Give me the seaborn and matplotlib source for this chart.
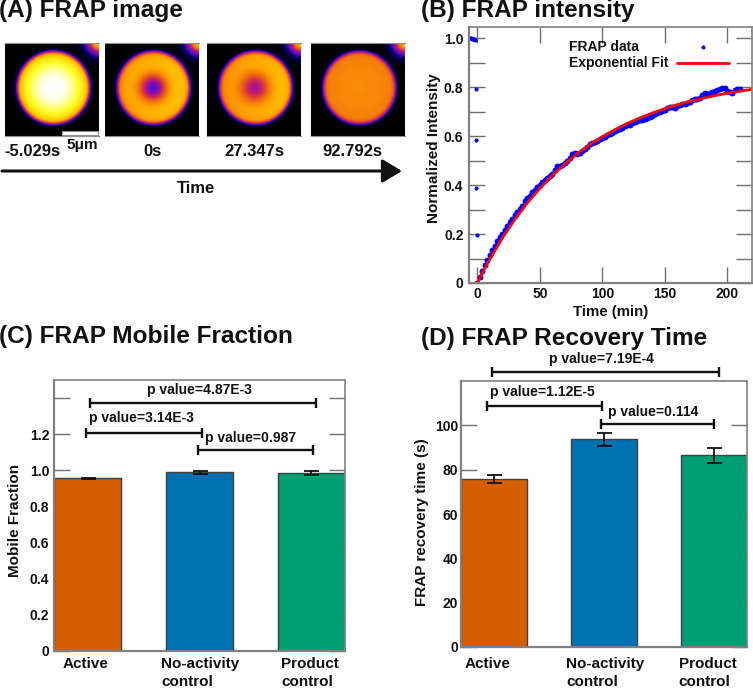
import numpy as np
import matplotlib
matplotlib.use('Agg')
import matplotlib.pyplot as plt
from matplotlib.colors import LinearSegmentedColormap
from matplotlib.patches import Rectangle
import seaborn as sns

sns.set_style('white')
plt.rcParams['font.family'] = ['Liberation Sans', 'DejaVu Sans']
plt.rcParams['font.weight'] = 'bold'
plt.rcParams['axes.labelweight'] = 'bold'
plt.rcParams['text.color'] = '#111111'
plt.rcParams['axes.labelcolor'] = '#111111'
plt.rcParams['xtick.color'] = '#111111'
plt.rcParams['ytick.color'] = '#111111'

W, H = 753, 688

# panel A frames
frame_labels = ['-5.029s', '0s', '27.347s', '92.792s']
frame_centre = [1.0, 0.79, 0.77, 0.61]
frame_edge = [0.72, 0.64, 0.63, 0.57]
frame_tilt = [0.0, 0.05, 0.06, 0.0]
frame_bleach = [0.0, 0.60, 0.46, 0.0]
frame_sigma = [1, 10, 11, 1]
fire_colors = ['#000000', '#0a0060', '#5a10c8', '#a0109a', '#d83040',
               '#f07010', '#ffa000', '#ffd000', '#ffff30', '#ffffff']

# panel B
pre_t = [-5.6, -4.8, -4.0, -3.2, -2.4, -1.6, -1.3, -1.0, -0.8, -0.5]
pre_y = [1.0, 0.999, 0.998, 0.996, 0.995, 0.993, 0.79, 0.583, 0.387, 0.196]
rec_t = list(range(0, 212, 2))
rec_y = [.000, .026, .050, .072, .094, .115, .135, .152, .170, .186, .202, .217, .231, .250, .262,
         .277, .290, .304, .316, .334, .345, .357, .370, .381, .392, .401, .411, .419, .429, .436,
         .445, .460, .478, .478, .480, .488, .498, .510, .527, .530, .526, .532, .538, .546, .557,
         .567, .571, .574, .579, .587, .592, .598, .604, .608, .614, .620, .624, .628, .634, .640,
         .643, .645, .652, .656, .661, .665, .667, .669, .673, .677, .683, .689, .692, .698, .704,
         .708, .714, .717, .719, .716, .722, .726, .729, .731, .735, .738, .745, .750, .752, .757,
         .768, .775, .773, .774, .780, .784, .788, .791, .798, .796, .784, .779, .776, .786, .793,
         .792]
fit_t = [0, 5, 10, 20, 30, 40, 50, 60, 70, 80, 90, 100, 110, 120, 130, 140, 150, 160, 170, 180, 190, 200, 210, 220]
fit_y = [0, .050, .097, .183, .259, .327, .386, .439, .486, .528, .565, .597, .626, .652, .674, .694,
         .712, .728, .742, .754, .765, .775, .783, .791]

# panels C and D
categories = ['Active', 'No-activity\ncontrol', 'Product\ncontrol']
bar_colors = ['#D55E00', '#0072B2', '#009E73']
mobile = [0.955, 0.989, 0.985]
mobile_err = [0.004, 0.008, 0.012]
recovery = [76.0, 93.7, 86.4]
recovery_err = [1.8, 2.9, 3.2]
mobile_p = [('p value=4.87E-3', 0.02, 2.04, 1.372, 1.0, 1.444),
            ('p value=3.14E-3', -0.01, 1.02, 1.205, 0.48, 1.289),
            ('p value=0.987', 0.99, 2.01, 1.11, 1.46, 1.178)]
recovery_p = [('p value=7.19E-4', -0.02, 2.045, 123.9, 0.98, 129.7),
              ('p value=1.12E-5', -0.064, 0.98, 108.6, 0.436, 114.9),
              ('p value=0.114', 0.97, 2.0, 100.5, 1.445, 105.9)]


def px_axes(fig, l, t, r, b):
    return fig.add_axes([l / W, 1 - b / H, (r - l) / W, (b - t) / H])


def fx(x):
    return x / W


def fy(y):
    return 1 - y / H


def cell_image(centre, edge, tilt, bleach, sigma, n=94, cx=48.5, cy=45.7, R=36.0):
    yy, xx = np.mgrid[0:n, 0:n] + 0.5
    r = np.hypot(xx - cx, yy - cy)
    inside = 1 / (1 + np.exp((r - R) / 1.2))
    level = edge + (centre - edge) * np.clip(1 - (r / R) ** 2.5, 0, 1)
    level = level + tilt * (xx - cx) / R
    level = level - bleach * np.exp(-(r / sigma) ** 2 / 2)
    d = np.hypot(xx - n, yy)
    corner = 0.72 / (1 + np.exp((d - 8) / 2.2)) + 0.12 * np.exp(-((d - 12) / 8.0) ** 2)
    return level * inside + corner


def style_axes(ax, color='#808080'):
    for side in ax.spines:
        ax.spines[side].set_visible(True)
        ax.spines[side].set_color(color)
        ax.spines[side].set_linewidth(1.2)
        ax.spines[side].set_zorder(6)
    ax.spines['left'].set_linewidth(1.6)
    ax.spines['bottom'].set_linewidth(1.6)


def bar_panel(ax, values, errs, ylim, yticks, ylabels, ylabel, label_xy, p_rows, xticks, xpad, ypad):
    sns.barplot(x=categories, y=values, hue=categories, palette=bar_colors, width=0.6, saturation=1,
                edgecolor='#404040', linewidth=1.0, legend=False, ax=ax)
    ax.errorbar([0, 1, 2], values, yerr=errs, fmt='none', ecolor='#111111', elinewidth=1.3,
                capsize=5.4, capthick=1.3, zorder=5)
    ax.set_xlim(-0.3, 2.3)
    ax.set_ylim(*ylim)
    ax.set_axisbelow(True)
    ax.set_yticks(yticks)
    ax.set_yticklabels(ylabels, fontsize=10)
    ax.tick_params(axis='y', which='major', direction='in', left=True, right=True, length=11.5,
                   width=1.0, color='#707070', pad=ypad)
    ax.set_xticks(xticks)
    ax.set_xticklabels(categories, fontsize=11, multialignment='left', linespacing=1.4)
    ax.tick_params(axis='x', length=0, pad=xpad)
    ax.set_ylabel(ylabel, fontsize=11, labelpad=0)
    ax.yaxis.set_label_coords(*label_xy)
    ax.set_xlabel('')
    style_axes(ax)
    for text, x0, x1, y, tx, ty in p_rows:
        ax.plot([x0, x1], [y, y], color='#111111', lw=1.7, marker='|', ms=7.5, mew=1.7, clip_on=False, zorder=7)
        ax.text(tx, ty, text, ha='center', va='center', fontsize=10, clip_on=False)


fig = plt.figure(figsize=(W / 100, H / 100), dpi=100)

fig.text(fx(-1), fy(10), '(A) FRAP image', fontsize=17.6, ha='left', va='center')
fig.text(fx(421), fy(10), '(B) FRAP intensity', fontsize=17.6, ha='left', va='center')
fig.text(fx(-1), fy(337), '(C) FRAP Mobile Fraction', fontsize=17.6, ha='left', va='center')
fig.text(fx(421), fy(338), '(D) FRAP Recovery Time', fontsize=17.6, ha='left', va='center')

# panel A
fire = LinearSegmentedColormap.from_list('fire', list(zip(
    [0, 0.1, 0.2, 0.3, 0.42, 0.55, 0.66, 0.78, 0.9, 1.0], fire_colors)))
lefts = [5, 105, 207, 311]
label_x = [32, 153, 254, 352]
for i, left in enumerate(lefts):
    ax = px_axes(fig, left, 42.5, left + 94, 136)
    img = cell_image(frame_centre[i], frame_edge[i], frame_tilt[i], frame_bleach[i], frame_sigma[i])
    sns.heatmap(img, cmap=fire, vmin=0, vmax=1, cbar=False, xticklabels=False, yticklabels=False,
                rasterized=True, ax=ax)
    ax.spines['top'].set_visible(True)
    ax.spines['bottom'].set_visible(True)
    ax.spines['top'].set_color('#909090')
    ax.spines['bottom'].set_color('#909090')
    fig.text(fx(label_x[i]), fy(152), frame_labels[i], fontsize=12, ha='center', va='center')
fig.add_artist(Rectangle((fx(62), fy(135)), 36 / W, 4.5 / H, transform=fig.transFigure,
                         facecolor='white', edgecolor='#909090', lw=0.8))
fig.text(fx(82), fy(145), '5μm', fontsize=11, ha='center', va='center')
arrow_ax = fig.add_axes([0, 0, 1, 1], facecolor='none')
arrow_ax.set_xlim(0, W)
arrow_ax.set_ylim(H, 0)
arrow_ax.axis('off')
arrow_ax.annotate('', xy=(402, 171), xytext=(2, 171),
                  arrowprops=dict(arrowstyle='-|>,head_length=1.2,head_width=0.72', lw=2.2, color='#111111',
                                  shrinkA=0, shrinkB=0, mutation_scale=10))
fig.text(fx(196), fy(189), 'Time', fontsize=12, ha='center', va='center')

# panel B
ax = px_axes(fig, 469, 27, 752, 283)
sns.scatterplot(x=pre_t, y=pre_y, color='#0000FF', s=9, linewidth=0, ax=ax, zorder=3)
sns.scatterplot(x=rec_t, y=rec_y, color='#0000FF', s=18, linewidth=0, ax=ax, zorder=3)
sns.lineplot(x=fit_t, y=fit_y, color='#FF0000', lw=2.0, ax=ax, zorder=4)
ax.set_xlim(-6.6, 219.6)
ax.set_ylim(0, 1.045)
ax.set_xticks([0, 50, 100, 150, 200])
ax.set_xticklabels(['0', '50', '100', '150', '200'], fontsize=10)
ax.set_yticks([0, 0.2, 0.4, 0.6, 0.8, 1.0])
ax.set_yticklabels(['0', '0.2', '0.4', '0.6', '0.8', '1.0'], fontsize=10)
ax.set_yticks([0.1, 0.3, 0.5, 0.7, 0.9], minor=True)
ax.tick_params(axis='both', which='both', direction='in', bottom=True, top=True, left=True, right=True,
               length=11.5, width=1.0, color='#707070', pad=4)
ax.tick_params(axis='x', pad=3)
ax.set_xlabel('Time (min)', fontsize=10.8, labelpad=3)
ax.set_ylabel('Normalized Intensity', fontsize=11, labelpad=0)
ax.yaxis.set_label_coords(-0.098, 0.527)
style_axes(ax)
# legend rows are left aligned with the handle column to the right
lx = (569 - 469) / 283
ax.text(lx, (283 - 47) / 256, 'FRAP data', transform=ax.transAxes, fontsize=10, ha='left', va='center')
ax.text(lx, (283 - 63) / 256, 'Exponential Fit', transform=ax.transAxes, fontsize=10, ha='left', va='center')
ax.plot([(703 - 469) / 283], [(283 - 46.5) / 256], 'o', color='#0000FF', ms=2.9, mew=0, transform=ax.transAxes)
ax.plot([(677 - 469) / 283, (729 - 469) / 283], [(283 - 63) / 256] * 2, color='#FF0000', lw=2.0, transform=ax.transAxes)

# panel C
ax = px_axes(fig, 54, 380, 345, 651)
bar_panel(ax, mobile, mobile_err, (0, 1.5), [0, 0.2, 0.4, 0.6, 0.8, 1.0, 1.2, 1.4],
          ['0', '0.2', '0.4', '0.6', '0.8', '1.0', '1.2', ''], 'Mobile Fraction', (-0.11, 0.483),
          mobile_p, [-0.02, 1.01, 1.99], 4, 3.5)

# panel D
ax = px_axes(fig, 461, 381, 747, 647)
bar_panel(ax, recovery, recovery_err, (0, 120), [0, 20, 40, 60, 80, 100],
          ['0', '20', '40', '60', '80', '100'], 'FRAP recovery time (s)', (-0.112, 0.47),
          recovery_p, [-0.055, 1.01, 1.94], 7, 2)

fig.savefig('out.png', dpi=100)
